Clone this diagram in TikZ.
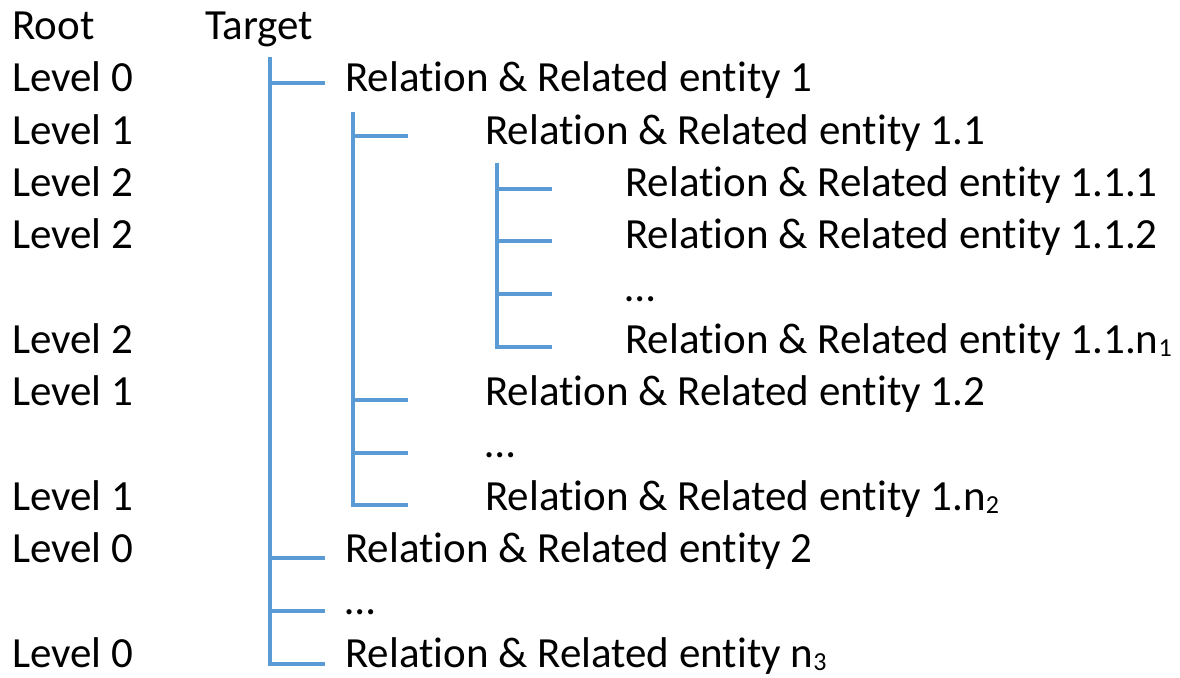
\documentclass[tikz,border=0pt]{standalone}
\usepackage{fontspec}
\setmainfont[Ligatures=NoCommon]{Carlito}
\definecolor{treeblue}{HTML}{5B9BD5}
% lowered, smaller index after a letter
\newcommand{\idx}[1]{\raisebox{-3pt}{\fontsize{26}{26}\selectfont #1}}

\begin{document}
\begin{tikzpicture}[x=1pt,y=-1pt,
  lbl/.style={anchor=base west, inner sep=0pt, font=\fontsize{43}{50}\selectfont},
  branch/.style={draw=treeblue, line width=4pt}]
\useasboundingbox (0,0) rectangle (1180,677);

% header
\node[lbl] (root)   at (12,39.5) {Root};
\node[lbl] (target) at (205,39.5) {Target};

% level column
\node[lbl] (lv1)  at (12,92)     {Level 0};
\node[lbl] (lv2)  at (12,144.3)  {Level 1};
\node[lbl] (lv3)  at (12,196.6)  {Level 2};
\node[lbl] (lv4)  at (12,248.8)  {Level 2};
\node[lbl] (lv6)  at (12,353.4)  {Level 2};
\node[lbl] (lv7)  at (12,405.7)  {Level 1};
\node[lbl] (lv9)  at (12,510.2)  {Level 1};
\node[lbl] (lv10) at (12,562.5)  {Level 0};
\node[lbl] (lv12) at (12,667)    {Level 0};

% entries
\node[lbl] (e1)  at (345,92)     {Relation \& Related entity 1};
\node[lbl] (e2)  at (485,144.3)  {Relation \& Related entity 1.1};
\node[lbl] (e3)  at (625,196.6)  {Relation \& Related entity 1.1.1};
\node[lbl] (e4)  at (625,248.8)  {Relation \& Related entity 1.1.2};
\node[lbl] (e5)  at (625,301.1)  {…};
\node[lbl] (e6)  at (625,353.4)  {Relation \& Related entity 1.1.n\idx{1}};
\node[lbl] (e7)  at (485,405.7)  {Relation \& Related entity 1.2};
\node[lbl] (e8)  at (485,457.9)  {…};
\node[lbl] (e9)  at (485,510.2)  {Relation \& Related entity 1.n\idx{2}};
\node[lbl] (e10) at (345,562.5)  {Relation \& Related entity 2};
\node[lbl] (e11) at (345,614.7)  {…};
\node[lbl] (e12) at (345,667)    {Relation \& Related entity n\idx{3}};

% trunk tops
\coordinate (top0) at (270,57);
\coordinate (top1) at (353,112);
\coordinate (top2) at (497,163);

% branch ends
\coordinate (k1)  at (325,83);
\coordinate (k2)  at (408,135.8);
\coordinate (k3)  at (552,188.6);
\coordinate (k4)  at (552,241.4);
\coordinate (k5)  at (552,294.2);
\coordinate (k6)  at (552,347);
\coordinate (k7)  at (408,399.8);
\coordinate (k8)  at (408,452.6);
\coordinate (k9)  at (408,505.4);
\coordinate (k10) at (325,558.2);
\coordinate (k11) at (325,611);
\coordinate (k12) at (325,663.8);

% level 0
\draw[branch] (top0) |- (k12);
\foreach \k in {k1,k10,k11} \draw[branch] (top0 |- \k) -- (\k);
% level 1
\draw[branch] (top1) |- (k9);
\foreach \k in {k2,k7,k8} \draw[branch] (top1 |- \k) -- (\k);
% level 2
\draw[branch] (top2) |- (k6);
\foreach \k in {k3,k4,k5} \draw[branch] (top2 |- \k) -- (\k);
\end{tikzpicture}
\end{document}
